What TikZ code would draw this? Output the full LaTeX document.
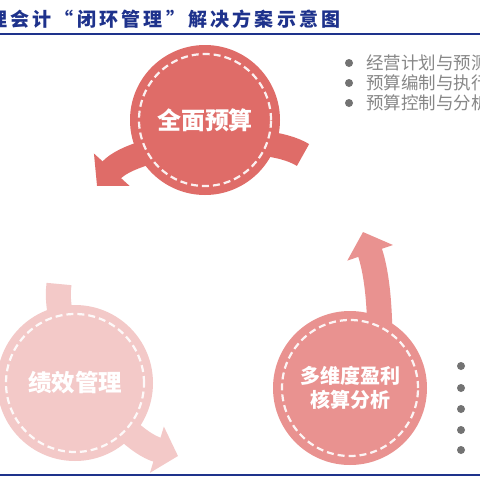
\documentclass[tikz,border=0pt]{standalone}
\usepackage{fontspec}
\usetikzlibrary{arrows.meta}
\newfontfamily\cjk{Noto Sans CJK SC}
\newfontfamily\cjktitle[LetterSpace=17]{Noto Sans CJK SC}
\definecolor{budgetred}{RGB}{223,108,104}
\definecolor{profitpink}{RGB}{233,146,144}
\definecolor{perfpink}{RGB}{243,201,200}
\definecolor{titleblue}{RGB}{30,50,140}
\definecolor{itemgray}{RGB}{135,135,135}
\definecolor{dotgray}{RGB}{115,115,115}
\begin{document}
\begin{tikzpicture}[x=1pt, y=-1pt,
	stage/.style={circle, minimum size=#1, inner sep=0pt, text=white, align=center},
	ring/.style={draw=white, line width=2.2pt, dash pattern=on 7pt off 4pt, opacity=0.9},
	band/.style={line width=25pt, -{Triangle[width=47pt,length=22pt]}},
	item/.style={anchor=west, inner sep=0pt, text=itemgray, font=\cjk\fontsize{17.5}{20}\selectfont},
	dot/.style={circle, fill=dotgray, minimum size=8pt, inner sep=0pt}]
	\clip (0,0) rectangle (480,480);
	\fill[white] (0,0) rectangle (480,480);
	
	\node[anchor=west, inner sep=0pt, text=titleblue, font=\cjktitle\bfseries\fontsize{19}{22}\selectfont] (title) at (-12,19) {理会计“闭环管理”解决方案示意图};
	\coordinate (topl) at (0,34);
	\coordinate (topr) at (480,34);
	\coordinate (botl) at (0,475);
	\coordinate (botr) at (480,475);
	\draw[titleblue, line width=1.6pt] (topl) -- (topr);
	\draw[titleblue, line width=1.6pt] (botl) -- (botr);
	
	\coordinate (budgettail) at (303,155);
	\coordinate (budgettip) at (97,186);
	\coordinate (perftail) at (59,284);
	\coordinate (perftip) at (178,456);
	\coordinate (profitbase) at (380,345);
	\coordinate (profittip) at (363,232);
	\draw[band, draw=budgetred] (budgettail) .. controls +(-40,-25) and +(40,-44) .. (budgettip);
	\draw[band, draw=perfpink] (perftail) .. controls +(-8,60) and +(-60,-18) .. (perftip);
	\draw[band, draw=profitpink] (profitbase) .. controls +(0,-45) and +(13,38) .. (profittip);
	
	\node[stage=150pt, fill=budgetred, font=\cjk\bfseries\fontsize{24}{28}\selectfont] (budget) at (205,120) {全面预算};
	\node[stage=156pt, fill=perfpink, font=\cjk\bfseries\fontsize{23.5}{28}\selectfont] (perf) at (75,383) {绩效管理};
	\node[stage=154pt, fill=profitpink, font=\cjk\bfseries\fontsize{20}{24}\selectfont] (profit) at (350,388) {多维度盈利\\核算分析};
	\draw[ring] (budget.center) circle (66pt);
	\draw[ring] (perf.center) circle (69pt);
	\draw[ring] (profit.center) circle (68pt);
	
	\node[dot] (d1) at (349,63) {};
	\node[dot] (d2) at (349,83) {};
	\node[dot] (d3) at (349,103) {};
	\node[item] (plan) at (366,63) {经营计划与预测};
	\node[item] (make) at (366,83) {预算编制与执行};
	\node[item] (ctrl) at (366,103) {预算控制与分析};
	\foreach \y [count=\i] in {366,388,409,430,450}
		\node[dot] (e\i) at (461,\y) {};
\end{tikzpicture}
\end{document}
